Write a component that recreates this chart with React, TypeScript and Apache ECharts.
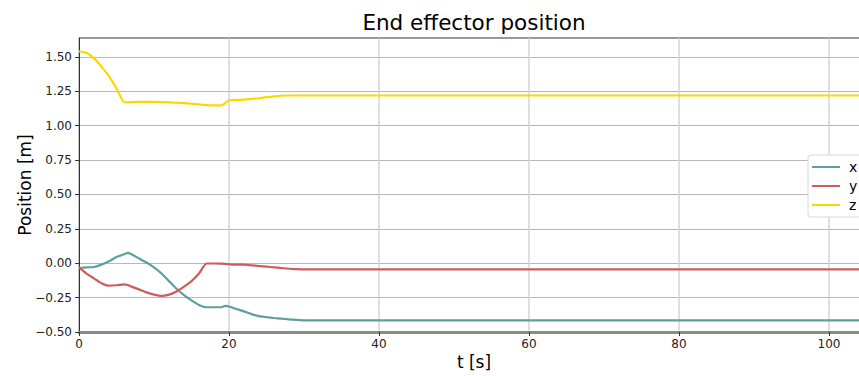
import React, { useEffect, useRef } from "react";
import * as echarts from "echarts";

const tValues = [0, 1, 2, 3, 4, 5, 6, 6.5, 7, 8, 9, 10, 11, 12, 13, 14, 15, 16, 17, 18, 19, 19.5, 20, 21, 22, 23, 24, 25, 26, 27, 28, 29, 30, 40, 60, 80, 100, 106];
const xPos = [-0.035, -0.03, -0.027, -0.01, 0.015, 0.045, 0.065, 0.075, 0.065, 0.035, 0.005, -0.03, -0.075, -0.13, -0.185, -0.232, -0.27, -0.303, -0.32, -0.32, -0.32, -0.31, -0.315, -0.333, -0.35, -0.37, -0.385, -0.392, -0.398, -0.403, -0.408, -0.412, -0.415, -0.415, -0.415, -0.415, -0.415, -0.415];
const yPos = [-0.03, -0.075, -0.11, -0.145, -0.163, -0.16, -0.153, -0.158, -0.17, -0.19, -0.212, -0.228, -0.237, -0.228, -0.205, -0.17, -0.13, -0.075, -0.002, -0.002, -0.003, -0.005, -0.007, -0.01, -0.01, -0.015, -0.02, -0.025, -0.03, -0.035, -0.04, -0.043, -0.045, -0.045, -0.045, -0.045, -0.045, -0.045];
const zPos = [1.54, 1.53, 1.49, 1.43, 1.36, 1.27, 1.172, 1.17, 1.172, 1.173, 1.173, 1.173, 1.172, 1.17, 1.167, 1.164, 1.16, 1.155, 1.15, 1.148, 1.148, 1.165, 1.185, 1.188, 1.19, 1.195, 1.2, 1.208, 1.214, 1.218, 1.22, 1.22, 1.22, 1.22, 1.22, 1.22, 1.22, 1.22];

const yTicks = [-0.5, -0.25, 0, 0.25, 0.5, 0.75, 1.0, 1.25, 1.5];
const xTicks = [0, 20, 40, 60, 80, 100];
const seriesNames = ["x", "y", "z"];
const seriesColors = ["#5f9ea0", "#cd5c5c", "#ffd700"];

const FONT = "DejaVu Sans";

export default function App() {
  const ref = useRef<HTMLDivElement>(null);
  useEffect(() => {
    if (!ref.current) return;
    document.body.style.margin = "0";
    document.body.style.overflow = "hidden";
    const chart = echarts.init(ref.current, undefined, { renderer: "svg" });
    const all = [xPos, yPos, zPos];
    chart.setOption({
      animation: false,
      backgroundColor: "#ffffff",
      textStyle: { fontFamily: FONT },
      graphic: [
        {
          type: "text",
          x: 474,
          y: 22.5,
          style: {
            text: "End effector position",
            font: `21.5px '${FONT}'`,
            fill: "#000",
            textAlign: "center",
            textVerticalAlign: "middle",
          },
        },
      ],
      grid: {
        left: 79,
        top: 38,
        width: 790,
        height: 294,
        containLabel: false,
        outerBoundsMode: "none",
        show: true,
        borderColor: "#333",
        borderWidth: 1,
        backgroundColor: "transparent",
      },
      legend: {
        orient: "vertical",
        left: 808,
        top: 155,
        padding: [4, 4, 4, 4],
        backgroundColor: "#fff",
        borderColor: "#d8d8d8",
        borderWidth: 1,
        borderRadius: 3,
        itemWidth: 28,
        itemHeight: 2,
        itemGap: 3,
        icon: "rect",
        data: seriesNames,
        textStyle: { fontFamily: FONT, fontSize: 14, color: "#000", lineHeight: 16, padding: [0, 0, 0, 4] },
      },
      xAxis: {
        type: "value",
        min: 0,
        max: 105.333,
        interval: 20,
        name: "t [s]",
        nameLocation: "middle",
        nameGap: 21,
        nameMoveOverlap: false,
        nameTextStyle: { fontFamily: FONT, fontSize: 17, color: "#000" },
        axisLine: { onZero: false, lineStyle: { color: "#8a8a8a", width: 3 } },
        axisTick: { show: true, length: 4, customValues: xTicks, lineStyle: { color: "#333" } },
        axisLabel: { customValues: xTicks, margin: 6, fontFamily: FONT, fontSize: 12, color: "#222" },
        splitLine: { show: true, lineStyle: { color: "#d4d4d4", width: 1.5 } },
      },
      yAxis: {
        type: "value",
        min: -0.5,
        max: 1.638,
        interval: 0.25,
        name: "Position [m]",
        nameLocation: "middle",
        nameGap: 46,
        nameMoveOverlap: false,
        nameTextStyle: { fontFamily: FONT, fontSize: 17, color: "#000" },
        axisLine: { show: true, lineStyle: { color: "#333", width: 1 } },
        axisTick: { show: true, length: 4, customValues: yTicks, lineStyle: { color: "#333" } },
        axisLabel: {
          customValues: yTicks,
          margin: 7,
          fontFamily: FONT,
          fontSize: 12,
          color: "#222",
          formatter: (v: number) => (v < 0 ? "\u2212" : "") + Math.abs(v).toFixed(2),
        },
        splitLine: { show: true, lineStyle: { color: "#b8b8b8", width: 1 } },
      },
      series: seriesNames.map((n, i) => ({
        name: n,
        type: "line",
        symbol: "none",
        smooth: 0.2,
        color: seriesColors[i],
        lineStyle: { color: seriesColors[i], width: 2.2 },
        data: tValues.map((t, j) => [t, all[i][j]]),
      })),
    });
    return () => chart.dispose();
  }, []);
  return (
    <div style={{ width: 859, height: 376, overflow: "hidden", position: "relative" }}>
      <div ref={ref} style={{ width: 859, height: 376 }} />
    </div>
  );
}
